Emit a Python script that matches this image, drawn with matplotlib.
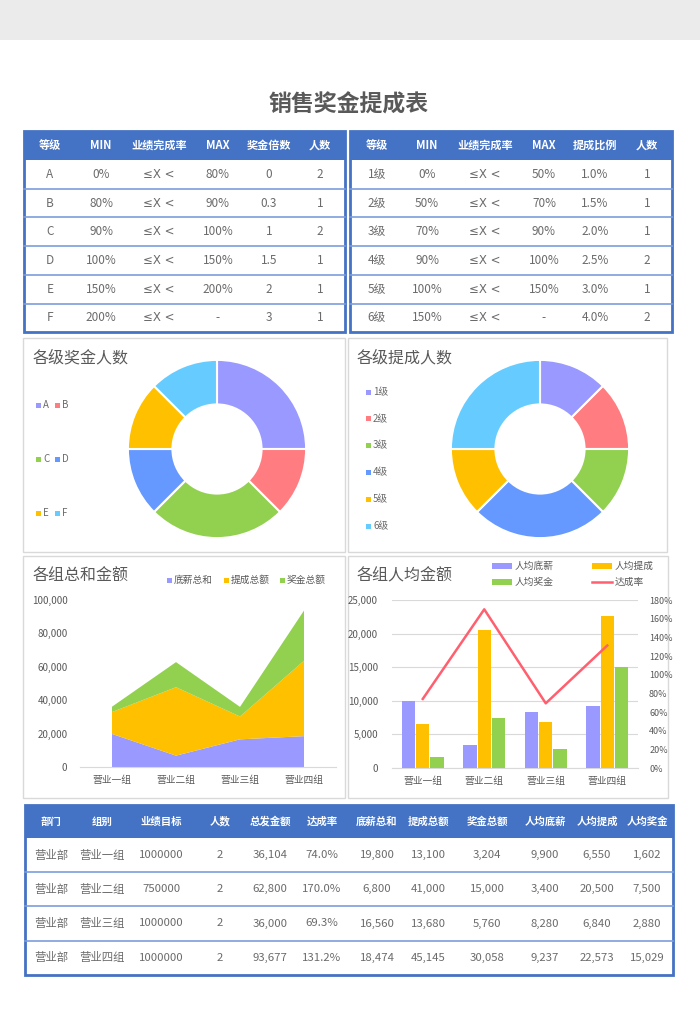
import matplotlib
matplotlib.use("Agg")
import matplotlib.pyplot as plt
from matplotlib.patches import Rectangle
from matplotlib.ticker import FuncFormatter, MultipleLocator

plt.rcParams['font.family'] = ['Noto Sans CJK SC', 'DejaVu Sans']

W, H = 700, 1030

# ---------------- data ----------------
title = '销售奖金提成表'

t1_header = ['等级', 'MIN', '业绩完成率', 'MAX', '奖金倍数', '人数']
grades1 = ['A', 'B', 'C', 'D', 'E', 'F']
min1 = ['0%', '80%', '90%', '100%', '150%', '200%']
max1 = ['80%', '90%', '100%', '150%', '200%', '-']
mult1 = ['0', '0.3', '1', '1.5', '2', '3']
count1 = [2, 1, 2, 1, 1, 1]

t2_header = ['等级', 'MIN', '业绩完成率', 'MAX', '提成比例', '人数']
grades2 = ['1级', '2级', '3级', '4级', '5级', '6级']
min2 = ['0%', '50%', '70%', '90%', '100%', '150%']
max2 = ['50%', '70%', '90%', '100%', '150%', '-']
ratio2 = ['1.0%', '1.5%', '2.0%', '2.5%', '3.0%', '4.0%']
count2 = [1, 1, 1, 2, 1, 2]

pie1_colors = ['#9999FF', '#FF7C80', '#92D050', '#6699FF', '#FFC000', '#66CCFF']
pie2_colors = ['#9999FF', '#FF7C80', '#92D050', '#6699FF', '#FFC000', '#66CCFF']

groups = ['营业一组', '营业二组', '营业三组', '营业四组']
dept = ['营业部', '营业部', '营业部', '营业部']
target = [1000000, 750000, 1000000, 1000000]
heads = [2, 2, 2, 2]
total = [36104, 62800, 36000, 93677]
rate = [0.740, 1.700, 0.693, 1.312]
base_sum = [19800, 6800, 16560, 18474]
comm_sum = [13100, 41000, 13680, 45145]
bonus_sum = [3204, 15000, 5760, 30058]
base_avg = [9900, 3400, 8280, 9237]
comm_avg = [6550, 20500, 6840, 22573]
bonus_avg = [1602, 7500, 2880, 15029]

area_labels = ['底薪总和', '提成总额', '奖金总额']
bar_labels = ['人均底薪', '人均提成', '人均奖金', '达成率']
series_colors = ['#9999FF', '#FFC000', '#92D050']
line_color = '#FF5F6F'

t3_header = ['部门', '组别', '业绩目标', '人数', '总发金额', '达成率', '底薪总和',
             '提成总额', '奖金总额', '人均底薪', '人均提成', '人均奖金']

# ---------------- figure ----------------
fig = plt.figure(figsize=(W / 100, H / 100), dpi=100)
fig.patch.set_facecolor('white')

bg = fig.add_axes([0, 0, 1, 1])
bg.set_xlim(0, W)
bg.set_ylim(H, 0)
bg.axis('off')

HEAD_BLUE = '#4472C4'
LINE_BLUE = '#7C9DDB'
TXT = '#6B6B6B'
DARK = '#595959'

bg.add_patch(Rectangle((0, 0), W, 40, color='#EBEBEB', lw=0))
bg.text(349, 105, title, ha='center', va='center', fontsize=16.5,
        fontweight='bold', color=DARK)


def draw_table(x0, x1, y_top, head_h, row_h, col_x, header, rows, fs_head, fs_body):
    nrows = len(rows)
    y_bot = y_top + head_h + nrows * row_h
    bg.add_patch(Rectangle((x0, y_top), x1 - x0, head_h, color=HEAD_BLUE, lw=0))
    for cx, h in zip(col_x, header):
        bg.text(cx, y_top + head_h / 2, h, ha='center', va='center',
                fontsize=fs_head, fontweight='bold', color='white')
    for i, r in enumerate(rows):
        yc = y_top + head_h + (i + 0.5) * row_h
        for cx, v in zip(col_x, r):
            fam = ['DejaVu Sans'] if v.startswith('≤') else None
            bg.text(cx, yc, v, ha='center', va='center', fontsize=fs_body,
                    color=TXT, family=fam)
        if i < nrows - 1:
            yl = y_top + head_h + (i + 1) * row_h
            bg.plot([x0, x1], [yl, yl], color=LINE_BLUE, lw=1.2)
    bg.add_patch(Rectangle((x0, y_top), x1 - x0, y_bot - y_top, fill=False,
                           ec=HEAD_BLUE, lw=2))


rows1 = [[g, a, '≤X <', b, m, str(c)] for g, a, b, m, c in zip(grades1, min1, max1, mult1, count1)]
draw_table(24, 345, 131, 29, 28.7, [50, 101, 159, 218, 269, 320], t1_header, rows1, 8, 8.5)
rows2 = [[g, a, '≤X <', b, m, str(c)] for g, a, b, m, c in zip(grades2, min2, max2, ratio2, count2)]
draw_table(350, 672, 131, 29, 28.7, [377, 427, 485, 544, 595, 647], t2_header, rows2, 8, 8.5)

rows3 = []
for i in range(4):
    rows3.append([dept[i], groups[i], str(target[i]), str(heads[i]), f'{total[i]:,}',
                  f'{rate[i] * 100:.1f}%', f'{base_sum[i]:,}', f'{comm_sum[i]:,}',
                  f'{bonus_sum[i]:,}', f'{base_avg[i]:,}', f'{comm_avg[i]:,}', f'{bonus_avg[i]:,}'])
draw_table(25, 673, 805, 33, 34.2, [51, 102, 161, 220, 270, 322, 377, 428, 487, 545, 597, 647],
           t3_header, rows3, 7.5, 8.2)

# panel borders
PANEL = '#D9D9D9'
for (x0, y0, x1, y1) in [(23, 338, 345, 552), (348, 338, 667, 552),
                         (23, 556, 345, 798), (348, 556, 668, 798)]:
    bg.add_patch(Rectangle((x0, y0), x1 - x0, y1 - y0, fill=False, ec=PANEL, lw=1))

TITLE_FS = 11.5
bg.text(33, 358, '各级奖金人数', ha='left', va='center', fontsize=TITLE_FS, color=DARK)
bg.text(357, 358, '各级提成人数', ha='left', va='center', fontsize=TITLE_FS, color=DARK)
bg.text(33, 576, '各组总和金额', ha='left', va='center', fontsize=TITLE_FS, color=DARK)
bg.text(357, 576, '各组人均金额', ha='left', va='center', fontsize=TITLE_FS, color=DARK)


def ax_px(x0, y0, x1, y1):
    a = fig.add_axes([x0 / W, 1 - y1 / H, (x1 - x0) / W, (y1 - y0) / H])
    a.set_facecolor('none')
    return a


# ---------------- pie 1 ----------------
pa = ax_px(127, 359, 307, 539)
pa.pie(count1, colors=pie1_colors, startangle=90, counterclock=False, radius=1,
       wedgeprops=dict(width=0.5, edgecolor='white', linewidth=1.5))
pa.set_xlim(-1.01, 1.01)
pa.set_ylim(-1.01, 1.01)
pa.set_aspect('equal')

leg_pos1 = [(38, 405), (57, 405), (38, 459), (57, 459), (38, 513), (57, 513)]
for (lx, ly), g, c in zip(leg_pos1, grades1, pie1_colors):
    bg.add_patch(Rectangle((lx - 2.5, ly - 2.5), 5, 5, color=c, lw=0))
    bg.text(lx + 5, ly, g, ha='left', va='center', fontsize=7, color=TXT)

# ---------------- pie 2 ----------------
pb = ax_px(450, 359, 630, 539)
pb.pie(count2, colors=pie2_colors, startangle=90, counterclock=False, radius=1,
       wedgeprops=dict(width=0.5, edgecolor='white', linewidth=1.5))
pb.set_xlim(-1.01, 1.01)
pb.set_ylim(-1.01, 1.01)
pb.set_aspect('equal')

for i, (g, c) in enumerate(zip(grades2, pie2_colors)):
    ly = 392 + i * 26.8
    bg.add_patch(Rectangle((368 - 2.5, ly - 2.5), 5, 5, color=c, lw=0))
    bg.text(373, ly, g, ha='left', va='center', fontsize=7, color=TXT)

# ---------------- area chart ----------------
aa = ax_px(80, 600, 336, 767)
xs = list(range(len(groups)))
aa.stackplot(xs, base_sum, comm_sum, bonus_sum, colors=series_colors, lw=0)
aa.set_xlim(-0.5, 3.5)
aa.set_ylim(0, 100000)
aa.yaxis.set_major_locator(MultipleLocator(20000))
aa.yaxis.set_major_formatter(FuncFormatter(lambda v, p: f'{int(v):,}'))
aa.set_xticks(xs)
aa.set_xticklabels(groups)
for s in ['top', 'right', 'left']:
    aa.spines[s].set_visible(False)
aa.spines['bottom'].set_color(PANEL)
aa.tick_params(length=0, labelsize=7, colors=DARK, pad=6)
aa.tick_params(axis='y', pad=9)

for lx, lab, c in zip([169, 226, 282], area_labels, series_colors):
    bg.add_patch(Rectangle((lx - 2.5, 580 - 2.5), 5, 5, color=c, lw=0))
    bg.text(lx + 5, 580, lab, ha='left', va='center', fontsize=7, color=DARK)

# ---------------- bar + line chart ----------------
ba = ax_px(392, 600, 638, 768)
bw = 0.215
off = 0.23
ba.bar([x - off for x in xs], base_avg, width=bw, color=series_colors[0], zorder=3)
ba.bar(xs, comm_avg, width=bw, color=series_colors[1], zorder=3)
ba.bar([x + off for x in xs], bonus_avg, width=bw, color=series_colors[2], zorder=3)
ba.set_xlim(-0.5, 3.5)
ba.set_ylim(0, 25000)
ba.yaxis.set_major_locator(MultipleLocator(5000))
ba.yaxis.set_major_formatter(FuncFormatter(lambda v, p: f'{int(v):,}'))
ba.grid(axis='y', color=PANEL, lw=0.8, zorder=0)
ba.set_xticks(xs)
ba.set_xticklabels(groups)
for s in ['top', 'right', 'left']:
    ba.spines[s].set_visible(False)
ba.spines['bottom'].set_color(PANEL)
ba.tick_params(length=0, labelsize=7, colors=DARK, pad=6)
ba.tick_params(axis='y', pad=10)

bb = ba.twinx()
bb.set_facecolor('none')
bb.plot(xs, rate, color=line_color, lw=1.8, zorder=5)
bb.set_ylim(0, 1.8)
bb.yaxis.set_major_locator(MultipleLocator(0.2))
bb.yaxis.set_major_formatter(FuncFormatter(lambda v, p: f'{v * 100:.0f}%'))
for s in bb.spines.values():
    s.set_visible(False)
bb.tick_params(length=0, labelsize=6.5, colors=DARK, pad=8)

leg_items = [(492, 566, 'bar', series_colors[0], bar_labels[0]),
             (592, 566, 'bar', series_colors[1], bar_labels[1]),
             (492, 582, 'bar', series_colors[2], bar_labels[2]),
             (592, 582, 'line', line_color, bar_labels[3])]
for lx, ly, kind, c, lab in leg_items:
    if kind == 'bar':
        bg.add_patch(Rectangle((lx, ly - 3), 20, 6, color=c, lw=0))
    else:
        bg.plot([lx, lx + 20], [ly, ly], color=c, lw=1.8)
    bg.text(lx + 23, ly, lab, ha='left', va='center', fontsize=7, color=DARK)

fig.savefig('out.png', dpi=100, facecolor='white')
